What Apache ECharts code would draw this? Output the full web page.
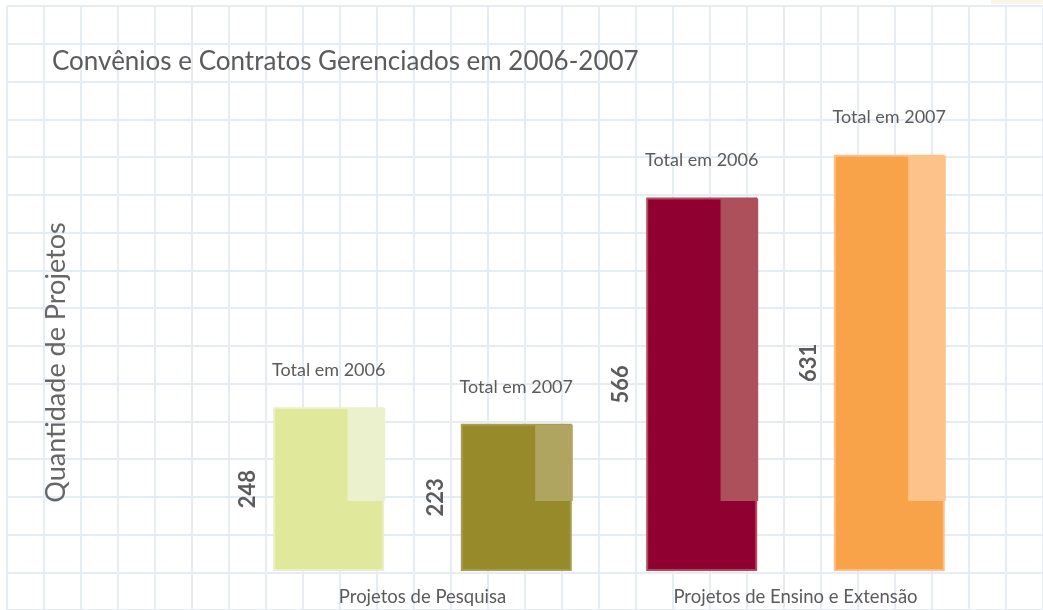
<!DOCTYPE html>
<html>
<head>
<meta charset="utf-8">
<script src="https://cdn.jsdelivr.net/npm/echarts@6/dist/echarts.min.js"></script>
<style>
  html, body { margin: 0; padding: 0; background: #ffffff; }
  #chart { width: 1043px; height: 610px; }
</style>
</head>
<body>
<div id="chart"></div>
<script>
// ---- data ----
const categories = ['Projetos de Pesquisa', 'Projetos de Ensino e Extensão'];
const seriesNames = ['Total em 2006', 'Total em 2007'];
const values2006 = [248, 566];
const values2007 = [223, 631];
const titleText = 'Convênios e Contratos Gerenciados em 2006-2007';
const yAxisName = 'Quantidade de Projetos';

// ---- styles ----
const FONT = 'Lato';
const TEXT = '#5b5b5b';
const BAR_W = 111;
const GAP_RATIO = 0.69;
const HIGHLIGHT_BASE = 106;   // level where the light shading ends
const HIGHLIGHT_START = 0.67; // fraction of bar width where shading starts
// colours [series][category]
const mainColors = [['#e0e89c', '#900030'], ['#978a2a', '#f8a24a']];
const lightColors = [['#ecf1cd', '#ae4f5c'], ['#b0a560', '#fdc289']];
const borderColors = [['#eaf0c6', '#b04a5c'], ['#a99d52', '#fcc087']];
const seriesValues = [values2006, values2007];

const chart = echarts.init(document.getElementById('chart'), null, { renderer: 'canvas' });

const overlayData = [];
seriesValues.forEach((vals, s) => vals.forEach((v, c) => overlayData.push([c, v, s])));

const barSeries = seriesValues.map((vals, s) => ({
  name: seriesNames[s],
  type: 'bar',
  xAxisIndex: 0,
  yAxisIndex: 0,
  barWidth: BAR_W,
  barGap: (GAP_RATIO * 100) + '%',
  z: 3,
  data: vals.map((v, c) => ({
    value: v,
    itemStyle: { color: mainColors[s][c], borderColor: borderColors[s][c], borderWidth: 2 }
  })),
  label: {
    show: true,
    position: 'top',
    distance: 28,
    formatter: '{a}',
    fontFamily: FONT,
    fontSize: 18,
    color: TEXT
  },
  emphasis: { disabled: true }
}));

const overlay = {
  type: 'custom',
  xAxisIndex: 0,
  yAxisIndex: 0,
  z: 4,
  silent: true,
  data: overlayData,
  renderItem: function (params, api) {
    const c = api.value(0), v = api.value(1), s = api.value(2);
    const center = api.coord([c, v]);
    const base = api.coord([c, 0]);
    const hl = api.coord([c, HIGHLIGHT_BASE]);
    const gap = GAP_RATIO * BAR_W;
    const offset = (BAR_W + gap) / 2 * (s === 0 ? -1 : 1);
    const left = center[0] + offset - BAR_W / 2;
    const right = left + BAR_W;
    const top = center[1];
    const x0 = left + BAR_W * HIGHLIGHT_START;
    return {
      type: 'group',
      children: [
        {
          type: 'rect',
          shape: { x: x0, y: top + 1, width: right + 1 - x0, height: hl[1] - top - 1 },
          style: { fill: lightColors[s][c] }
        },
        {
          type: 'text',
          x: left - 25,
          y: (top + base[1]) / 2,
          rotation: Math.PI / 2,
          style: {
            text: String(v),
            fontFamily: FONT,
            fontSize: 22,
            fontWeight: 'bold',
            fill: TEXT,
            align: 'center',
            verticalAlign: 'middle'
          }
        }
      ]
    };
  }
};

const option = {
  backgroundColor: '#ffffff',
  animation: false,
  title: {
    text: titleText,
    left: 47,
    top: 44,
    textStyle: { fontFamily: FONT, fontSize: 26, fontWeight: 'normal', color: TEXT }
  },
  graphic: [
    { type: 'rect', left: 991, top: 0, shape: { width: 52, height: 4 }, style: { fill: '#f8f6e9' }, z: 0 }
  ],
  grid: [
    { left: 236, right: 61, top: 154, bottom: 39 },
    { left: 7, top: 6, width: 28 * 37.56, height: 16 * 37.75, z: 0 }
  ],
  xAxis: [
    {
      type: 'category',
      gridIndex: 0,
      data: categories,
      axisLine: { show: false },
      axisTick: { show: false },
      splitLine: { show: false },
      axisLabel: { fontFamily: FONT, fontSize: 18.5, color: TEXT, margin: 17 }
    },
    {
      type: 'value',
      gridIndex: 1,
      min: 0, max: 28, interval: 1,
      axisLine: { show: false }, axisTick: { show: false }, axisLabel: { show: false },
      splitLine: { show: true, lineStyle: { color: '#e5ecf3', width: 2 } }
    }
  ],
  yAxis: [
    {
      type: 'value',
      gridIndex: 0,
      min: 0, max: 632,
      axisLine: { show: false },
      axisTick: { show: false },
      axisLabel: { show: false },
      splitLine: { show: false },
      name: yAxisName,
      nameLocation: 'middle',
      nameGap: 166,
      nameTextStyle: { fontFamily: FONT, fontSize: 27, color: '#666666' }
    },
    {
      type: 'value',
      gridIndex: 1,
      inverse: true,
      min: 0, max: 16, interval: 1,
      axisLine: { show: false }, axisTick: { show: false }, axisLabel: { show: false },
      splitLine: { show: true, lineStyle: { color: '#e5ecf3', width: 2 } }
    }
  ],
  series: barSeries.concat([overlay])
};

chart.setOption(option);
</script>
</body>
</html>
